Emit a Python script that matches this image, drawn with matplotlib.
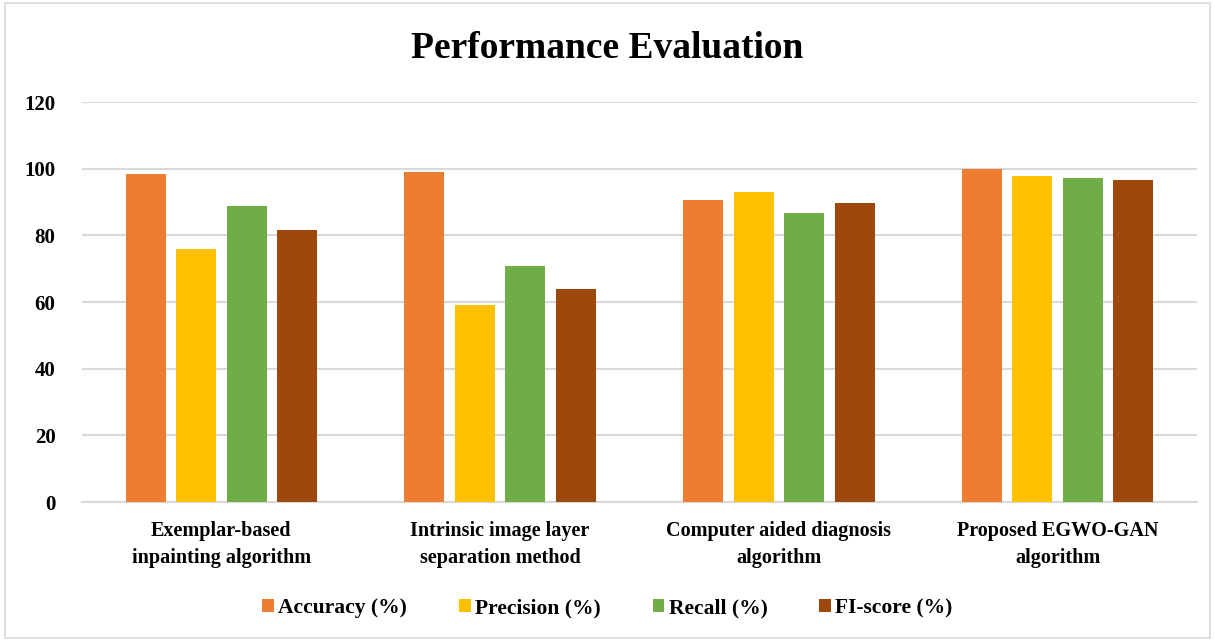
import numpy as np
import matplotlib.pyplot as plt
from matplotlib.patches import Rectangle

categories = ['Exemplar-based\ninpainting algorithm', 'Intrinsic image layer\nseparation method',
              'Computer aided diagnosis\nalgorithm', 'Proposed EGWO-GAN\nalgorithm']
series = ['Accuracy (%)', 'Precision (%)', 'Recall (%)', 'FI-score (%)']
accuracy = [98.5, 98.9, 90.6, 99.9]
precision = [75.8, 59.0, 92.9, 97.9]
recall = [88.7, 70.9, 86.7, 97.1]
f1score = [81.7, 63.9, 89.7, 96.5]
colors = ['#ED7D31', '#FFC000', '#70AD47', '#9E480E']

plt.rcParams['font.family'] = ['Liberation Serif', 'DejaVu Serif']
plt.rcParams['font.weight'] = 'bold'

fig = plt.figure(figsize=(12.15, 6.41), dpi=100)
fig.patches.append(Rectangle((0.004, 0.004), 0.992, 0.992, transform=fig.transFigure,
                             fill=False, edgecolor='#d9d9d9', linewidth=1.2))
ax = fig.add_axes([82 / 1215, 1 - 502 / 641, (1197 - 82) / 1215, 400 / 641])

x = np.arange(len(categories))
width = 0.1435
pitch = 0.181
for i, (name, vals) in enumerate(zip(series, [accuracy, precision, recall, f1score])):
    ax.bar(x + (i - 1.5) * pitch, vals, width, color=colors[i], label=name, zorder=3)

ax.set_xlim(-0.5, 3.5)
ax.set_ylim(0, 120)
ax.set_yticks(range(0, 121, 20))
ax.grid(axis='y', color='#d9d9d9', linewidth=1.5, zorder=0)
for s in ['top', 'right', 'left']:
    ax.spines[s].set_visible(False)
ax.spines['bottom'].set_color('#d9d9d9')
ax.spines['bottom'].set_linewidth(1.5)
ax.tick_params(length=0)
ax.set_xticks(x)
ax.set_xticklabels(categories, fontsize=14.5, fontweight='bold', linespacing=1.45)
ax.tick_params(axis='x', pad=14)
ax.tick_params(axis='y', labelsize=15, pad=19)

fig.text(0.5, 1 - 49 / 641, 'Performance Evaluation', ha='center', va='center',
         fontsize=27, fontweight='bold')
fig.legend(loc='center', bbox_to_anchor=(0.5, 1 - 608 / 641), ncol=4, frameon=False,
           prop={'size': 15.5, 'weight': 'bold'}, handlelength=0.55, handleheight=0.55,
           handletextpad=0.2, columnspacing=2.4)

plt.savefig('out.png', dpi=100)
